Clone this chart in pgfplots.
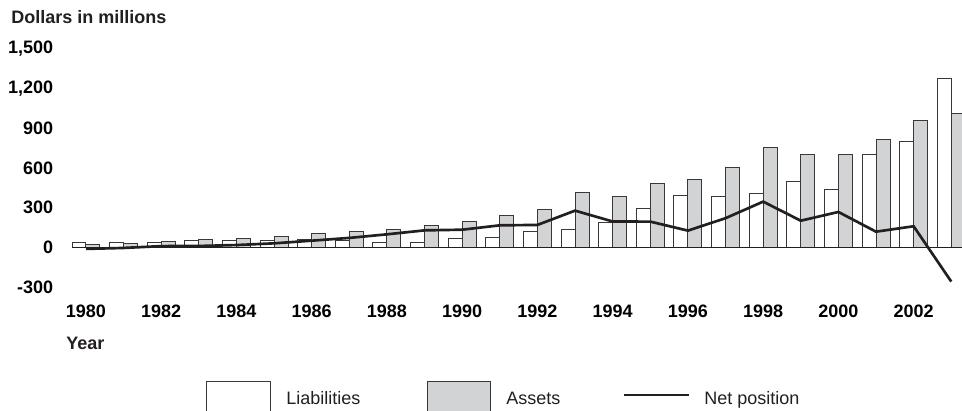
\documentclass[border=0pt]{standalone}
\usepackage{pgfplots}
\pgfplotsset{compat=1.18}
\usepackage{pgfplotstable}
\usepackage{fontspec}
\setmainfont{Liberation Sans}
\definecolor{ink}{HTML}{231F20}
\definecolor{edge}{HTML}{383838}
\definecolor{assetgray}{HTML}{D1D3D4}
\newcommand\lf{\fontsize{13.5}{16}\selectfont}
\pgfplotstableread{
year L A N
1980 35 23 -12
1981 35 30 -5
1982 33 42 9
1983 48 58 10
1984 48 65 17
1985 53 83 30
1986 58 103 50
1987 50 121 71
1988 38 136 98
1989 38 166 128
1990 63 196 133
1991 76 242 166
1992 118 287 169
1993 136 413 277
1994 188 383 195
1995 290 484 194
1996 388 514 126
1997 385 605 220
1998 408 753 345
1999 499 700 201
2000 433 700 267
2001 698 816 118
2002 796 955 159
2003 1272 1013 -259
}\datatable
\begin{document}
\begin{tikzpicture}
\useasboundingbox (0,0) rectangle (721.5pt,307.5pt);
\begin{axis}[
  at={(54pt,92.25pt)}, anchor=south west,
  scale only axis, width=667.5pt, height=178.65pt,
  xmin=1979.628, xmax=2003.286, ymin=-300, ymax=1500,
  axis line style={draw=none}, major tick style={draw=none},
  xtick={1980,1982,...,2002}, ytick={-300,0,...,1500},
  scaled y ticks=false,
  x tick label style={font=\bfseries\lf, anchor=north, inner sep=0pt, yshift=-13pt,
     /pgf/number format/.cd, 1000 sep={}, assume math mode=true},
  y tick label style={font=\bfseries\lf, anchor=east, inner sep=0pt, xshift=-14pt,
     /pgf/number format/.cd, 1000 sep={,}, assume math mode=true},
]
\addplot[ybar, bar width=0.372, bar shift=-0.186, fill=white, draw=edge, line width=0.75pt]
  table[x=year, y=L] {\datatable};
\addplot[ybar, bar width=0.372, bar shift=0.186, fill=assetgray, draw=edge, line width=0.75pt]
  table[x=year, y=A] {\datatable};
\draw[ink, line width=0.9pt] (axis cs:1979.628,0) -- (axis cs:2003.286,0);
\addplot[ink, line width=2pt, mark=none] table[x=year, y=N] {\datatable};
\end{axis}
\node[anchor=base west, inner sep=0pt, font=\bfseries\lf, text=ink] at (8.25pt,289.5pt) {Dollars in millions};
\node[anchor=base west, inner sep=0pt, font=\bfseries\lf, text=ink] at (49.5pt,45.5pt) {Year};
\draw[edge, line width=0.75pt, fill=white] (154.5pt,21.2pt) rectangle (202.5pt,-5pt);
\node[anchor=base west, inner sep=0pt, font=\lf, text=ink] at (214.5pt,4.3pt) {Liabilities};
\draw[edge, line width=0.75pt, fill=assetgray] (320.25pt,21.2pt) rectangle (367.5pt,-5pt);
\node[anchor=base west, inner sep=0pt, font=\lf, text=ink] at (379.5pt,4.3pt) {Assets};
\draw[ink, line width=2pt] (468pt,11.25pt) -- (516.75pt,11.25pt);
\node[anchor=base west, inner sep=0pt, font=\lf, text=ink] at (528pt,4.3pt) {Net position};
\end{tikzpicture}
\end{document}
